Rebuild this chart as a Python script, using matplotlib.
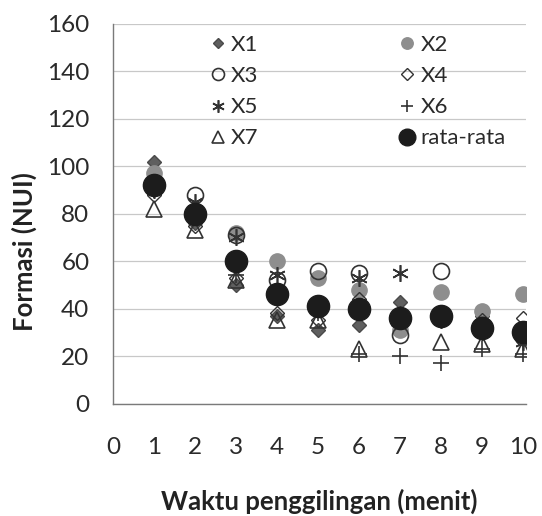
import numpy as np
import matplotlib
matplotlib.use('Agg')
from matplotlib import pyplot as plt

plt.rcParams['font.family'] = ['Lato', 'DejaVu Sans']

# waktu penggilingan (menit) dan formasi (NUI) tiap sampel
waktu = [1, 2, 3, 4, 5, 6, 7, 8, 9, 10]
x1 = [102, 76, 50, 37, 31, 33, 43, 37, 37, 27]
x2 = [97, 80, 72, 60, 53, 48, 31, 47, 39, 46]
x3 = [93, 88, 71, 52, 56, 55, 29, 56, 33, 28]
x4 = [88, 75, 53, 38, 35, 44, 38, 38, 35, 36]
x5 = [90, 85, 70, 54, 40, 53, 55, 35, 30, 26]
x6 = [90, 80, 54, 46, 38, 21, 20, 17, 23, 21]
x7 = [82, 73, 52, 35, 35, 23, 36, 26, 25, 23]
rata = [92, 80, 60, 46, 41, 40, 36, 37, 32, 30]

series = [
    ('X1', x1, dict(marker='D', ms=7, mfc='#5f5f5f', mec='#4a4a4a')),
    ('X2', x2, dict(marker='o', ms=11, mfc='#8e8e8e', mec='#8e8e8e')),
    ('X3', x3, dict(marker='o', ms=11.5, mfc='none', mec='#333333', mew=1.2)),
    ('X4', x4, dict(marker='D', ms=7.5, mfc='none', mec='#333333', mew=1.0)),
    ('X5', x5, dict(marker=(6, 2, 0), ms=12, mec='#333333', mew=1.2)),
    ('X6', x6, dict(marker='+', ms=12, mec='#333333', mew=1.2)),
    ('X7', x7, dict(marker='^', ms=12, mfc='none', mec='#333333', mew=1.2)),
    ('rata-rata', rata, dict(marker='o', ms=16, mfc='#1c1c1c', mec='#1c1c1c')),
]

fig = plt.figure(figsize=(5.42, 5.16), dpi=100)
ax = fig.add_axes([0.2085, 0.218, 0.762, 0.7355])

lines = []
for name, vals, style in series:
    ln, = ax.plot(waktu, vals, linestyle='none', label=name, **style)
    lines.append(ln)

ax.set_xlim(0, 10.08)
ax.set_ylim(0, 160)
ax.set_xticks(range(0, 11))
ax.set_yticks(range(0, 161, 20))
ax.yaxis.grid(True, color='#c8c8c8', linewidth=0.9)
ax.set_axisbelow(True)
for s in ['top', 'right']:
    ax.spines[s].set_visible(False)
for s in ['left', 'bottom']:
    ax.spines[s].set_color('#7a7a7a')
    ax.spines[s].set_linewidth(1.0)
ax.tick_params(axis='x', length=0, pad=24, labelsize=17.5, labelcolor='#2a2a2a')
ax.tick_params(axis='y', length=0, pad=17, labelsize=17.5, labelcolor='#2a2a2a')

ax.set_xlabel('Waktu penggilingan (menit)', fontsize=18.5, fontweight='bold',
              color='#222222', labelpad=22)
ax.set_ylabel('Formasi (NUI)', fontsize=18.5, fontweight='bold', color='#222222')
# y title sits a bit below the middle of the axis
ax.yaxis.set_label_coords(-0.185, 0.40)

# legend fills column by column, so put odd series left and even right
order = [0, 2, 4, 6, 1, 3, 5, 7]
ax.legend([lines[i] for i in order], [lines[i].get_label() for i in order],
          ncol=2, loc='upper left', bbox_to_anchor=(0.21, 1.0), frameon=False,
          fontsize=16, markerscale=0.75, handlelength=0.6, handletextpad=0.3,
          columnspacing=6.4, labelspacing=0.5, borderaxespad=0.1,
          labelcolor='#2a2a2a')

plt.savefig('out.png', dpi=100)
